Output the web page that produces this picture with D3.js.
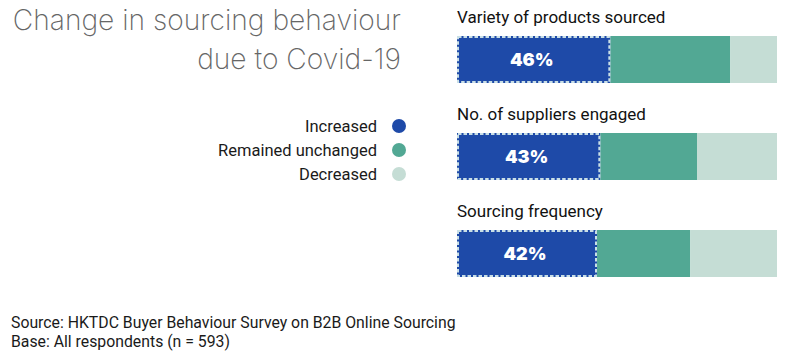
<!DOCTYPE html>
<html>
<head>
<meta charset="utf-8">
<script src="https://cdn.jsdelivr.net/npm/d3@7"></script>
<style>
  html, body { margin: 0; padding: 0; background: #fff; }
  svg { display: block; }
</style>
</head>
<body>
<svg id="chart" width="800" height="354"></svg>
<script>
const categories = ["Variety of products sourced", "No. of suppliers engaged", "Sourcing frequency"];
const seriesNames = ["Increased", "Remained unchanged", "Decreased"];
const increased = [46, 43, 42];
const unchanged = [36, 29, 28];
const decreased = [14, 24, 26];
const titleLines = ["Change in sourcing behaviour", "due to Covid-19"];
const footerLines = ["Source: HKTDC Buyer Behaviour Survey on B2B Online Sourcing", "Base: All respondents (n = 593)"];
const colors = ["#1e4aa8", "#52a894", "#c5ddd5"];

const svg = d3.select("#chart");

const rows = categories.map((c, i) => ({
  category: c,
  "Increased": increased[i],
  "Remained unchanged": unchanged[i],
  "Decreased": decreased[i]
}));

const stack = d3.stack().keys(seriesNames).offset(d3.stackOffsetExpand);
const stacked = stack(rows);

const x = d3.scaleLinear().domain([0, 1]).range([457, 777]);
const y = d3.scaleBand().domain(categories).range([36, 277]).paddingInner(50 / 97).paddingOuter(0);
const color = d3.scaleOrdinal().domain(seriesNames).range(colors);

// Title
svg.append("g").selectAll("text").data(titleLines).join("text")
  .attr("x", 401)
  .attr("y", (d, i) => 30 + i * 38.5)
  .attr("text-anchor", "end")
  .attr("font-family", "Inter, Lato, sans-serif")
  .attr("font-weight", 200)
  .attr("font-size", 28.2)
  .attr("fill", "#666")
  .text(d => d);

// Legend
const legend = svg.append("g").selectAll("g").data(seriesNames).join("g")
  .attr("transform", (d, i) => `translate(0, ${126 + i * 24})`);
legend.append("text")
  .attr("x", 377).attr("y", 6)
  .attr("text-anchor", "end")
  .attr("font-family", "Roboto, sans-serif")
  .attr("font-size", 16.5)
  .attr("fill", "#1a1a1a")
  .text(d => d);
legend.append("circle")
  .attr("cx", 399).attr("cy", 0).attr("r", 7)
  .attr("fill", d => color(d));

// Category labels
svg.append("g").selectAll("text").data(categories).join("text")
  .attr("x", 457)
  .attr("y", d => y(d) - 13.5)
  .attr("font-family", "Roboto, sans-serif")
  .attr("font-size", 17)
  .attr("fill", "#111")
  .text(d => d);

// Bars
const layers = svg.append("g").selectAll("g").data(stacked).join("g")
  .attr("fill", d => color(d.key));
layers.selectAll("rect").data(d => d.map(v => ({v, key: d.key}))).join("rect")
  .attr("x", d => x(d.v[0]))
  .attr("y", d => y(d.v.data.category))
  .attr("width", d => x(d.v[1]) - x(d.v[0]))
  .attr("height", y.bandwidth());

// Dashed border on "Increased"
const inc = stacked[0];
svg.append("g").selectAll("rect").data(inc).join("rect")
  .attr("x", d => x(d[0]) + 1)
  .attr("y", d => y(d.data.category) + 1)
  .attr("width", d => x(d[1]) - x(d[0]) - 2)
  .attr("height", y.bandwidth() - 2)
  .attr("fill", "none")
  .attr("stroke", "#c9dfe6")
  .attr("stroke-width", 2)
  .attr("stroke-dasharray", "3.5,2");

// Percent labels
svg.append("g").selectAll("text").data(inc).join("text")
  .attr("x", d => (x(d[0]) + x(d[1])) / 2 - 2)
  .attr("y", d => y(d.data.category) + y.bandwidth() / 2 + 6.5)
  .attr("text-anchor", "middle")
  .attr("font-family", "Inter, 'Open Sans', sans-serif")
  .attr("font-weight", 900)
  .attr("font-size", 18)
  .attr("fill", "#fff")
  .text(d => d.data["Increased"] + "%");

// Footer
svg.append("g").selectAll("text").data(footerLines).join("text")
  .attr("x", 11)
  .attr("y", (d, i) => 328 + i * 18.5)
  .attr("font-family", "Roboto, sans-serif")
  .attr("font-size", 15.8)
  .attr("fill", "#1a1a1a")
  .text(d => d);
</script>
</body>
</html>
